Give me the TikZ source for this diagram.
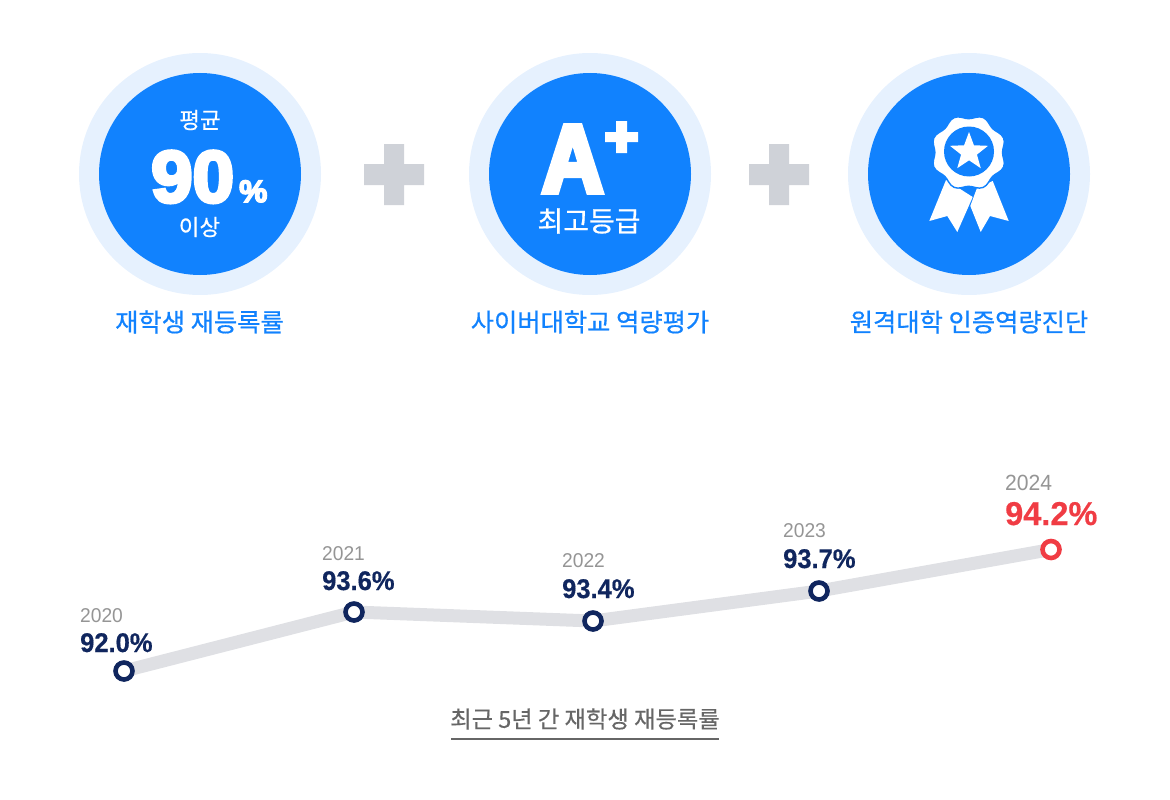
\documentclass[tikz,border=0pt]{standalone}
\usepackage{fontspec}
\setmainfont{Liberation Sans}[FakeStretch=0.96]
\newfontfamily\krm{Noto Sans CJK KR}[FakeBold=0.6]
\newfontfamily\krb{Noto Sans CJK KR}[FakeBold=0.5]
\newfontfamily\latb{Liberation Sans Bold}[FakeStretch=0.945,FakeBold=0.5]
\newfontfamily\latr{Liberation Sans Bold}[FakeStretch=0.985,FakeBold=0.5]
\newfontfamily\nineo{Liberation Sans Bold}[FakeBold=5,FakeStretch=1.02]
\newfontfamily\ahead{Liberation Sans Bold}[FakeBold=6,FakeStretch=0.88]
\usetikzlibrary{shapes.geometric}
\definecolor{mainblue}{HTML}{1182FE}
\definecolor{paleblue}{HTML}{E6F1FE}
\definecolor{plusgray}{HTML}{CFD2D8}
\definecolor{linegray}{HTML}{DFE0E4}
\definecolor{navy}{HTML}{10265E}
\definecolor{redc}{HTML}{F03C44}
\definecolor{yeargray}{HTML}{959595}
\definecolor{capgray}{HTML}{666666}
\tikzset{
 halo/.style={circle,fill=paleblue,minimum size=242pt,inner sep=0pt},
 disc/.style={circle,fill=mainblue,minimum size=202pt,inner sep=0pt},
 wtext/.style={text=white,inner sep=0pt,anchor=center},
 title/.style={text=mainblue,inner sep=0pt,anchor=center,font=\krm\fontsize{25.3}{25.3}\selectfont},
 yearl/.style={text=yeargray,inner sep=0pt,anchor=base west,font=\fontsize{20}{20}\selectfont},
 vall/.style={text=navy,inner sep=0pt,anchor=base west,font=\latb\fontsize{27}{27}\selectfont},
 dot/.style={circle,draw=navy,fill=white,line width=4.6pt,minimum size=17pt,inner sep=0pt},
 trend/.style={draw=linegray,line width=13pt}
}
\begin{document}
\begin{tikzpicture}[x=1pt,y=-1pt]
\useasboundingbox (0,0) rectangle (1170,800);
% circles
\node[halo] (h1) at (200,174) {};
\node[disc] (d1) at (200,174) {};
\node[halo] (h2) at (590,174) {};
\node[disc] (d2) at (590,174) {};
\node[halo] (h3) at (969,174) {};
\node[disc] (d3) at (969,174) {};
% plus
\fill[plusgray] (364,164) rectangle (424,185) (384,144) rectangle (404,205);
\fill[plusgray] (749,164) rectangle (809,185) (769,144) rectangle (789,205);
% first
\node[wtext,font=\krb\fontsize{22.5}{22.5}\selectfont] (t1) at (200,120) {평균};
\node[text=white,inner sep=0pt,anchor=base west,font=\nineo\fontsize{73}{73}\selectfont] (t90) at (151,202) {90};
\node[text=white,inner sep=0pt,anchor=base west,font=\nineo\fontsize{31}{31}\selectfont] (tp) at (239,202) {\%};
\node[wtext,font=\krb\fontsize{22.5}{22.5}\selectfont] (t2) at (199.5,227) {이상};
% second
\node[text=white,inner sep=0pt,anchor=base west,font=\ahead\fontsize{96}{96}\selectfont] (tA) at (542,192) {A};
\fill[white] (605,132) rectangle (638,142) (616,121) rectangle (627,153);
\node[wtext,font=\krm\fontsize{28}{28}\selectfont] (t3) at (589,221) {최고등급};
% badge
\fill[white] (946,180) -- (929.3,221) -- (947.3,216) -- (957.3,232) -- (972.7,197) -- cycle;
\fill[white] (992.7,181) -- (1008.7,221) -- (990,216) -- (980.7,232) -- (970.3,206) -- (977,188) -- cycle;
\fill[white,draw=mainblue,line width=1.4pt,smooth cycle] plot[domain=0:354.375,samples=64] ({968.7+(35.8-2*cos(8*\x))*cos(\x)},{152.5+(35.8-2*cos(8*\x))*sin(\x)});
\fill[mainblue] (969,151.5) circle (25);
\node[star,star points=5,star point ratio=2.4,fill=white,minimum size=40pt,inner sep=0pt] (st) at (969,152) {};
% titles
\node[title] (c1) at (199.5,322) {재학생 재등록률};
\node[title] (c2) at (590,322) {사이버대학교 역량평가};
\node[title] (c3) at (969,322) {원격대학 인증역량진단};
% trend
\coordinate (p0) at (124,671);
\coordinate (p1) at (354,612);
\coordinate (p2) at (593,621);
\coordinate (p3) at (819,591);
\coordinate (p4) at (1051,549.5);
\draw[trend] (p0) -- (p1) -- (p2) -- (p3) -- (p4);
\node[dot] (n0) at (p0) {};
\node[dot] (n1) at (p1) {};
\node[dot] (n2) at (p2) {};
\node[dot] (n3) at (p3) {};
\node[dot,draw=redc] (n4) at (p4) {};
\node[yearl] (y0) at (80,622) {2020};
\node[vall] (v0) at (80,652) {92.0\%};
\node[yearl] (y1) at (322,560) {2021};
\node[vall] (v1) at (322,590) {93.6\%};
\node[yearl] (y2) at (562,567) {2022};
\node[vall] (v2) at (562,598) {93.4\%};
\node[yearl] (y3) at (783,537) {2023};
\node[vall] (v3) at (783,568) {93.7\%};
\node[yearl,font=\fontsize{22}{22}\selectfont] (y4) at (1005,490) {2024};
\node[vall,text=redc,font=\latr\fontsize{33}{33}\selectfont] (v4) at (1005,525) {94.2\%};
\node[text=capgray,inner sep=0pt,anchor=center,font=\krb\fontsize{23.3}{23.3}\selectfont] (cap) at (585,719) {최근 5년 간 재학생 재등록률};
\draw[capgray,line width=2pt] (451,739) -- (719,739);
\end{tikzpicture}
\end{document}
